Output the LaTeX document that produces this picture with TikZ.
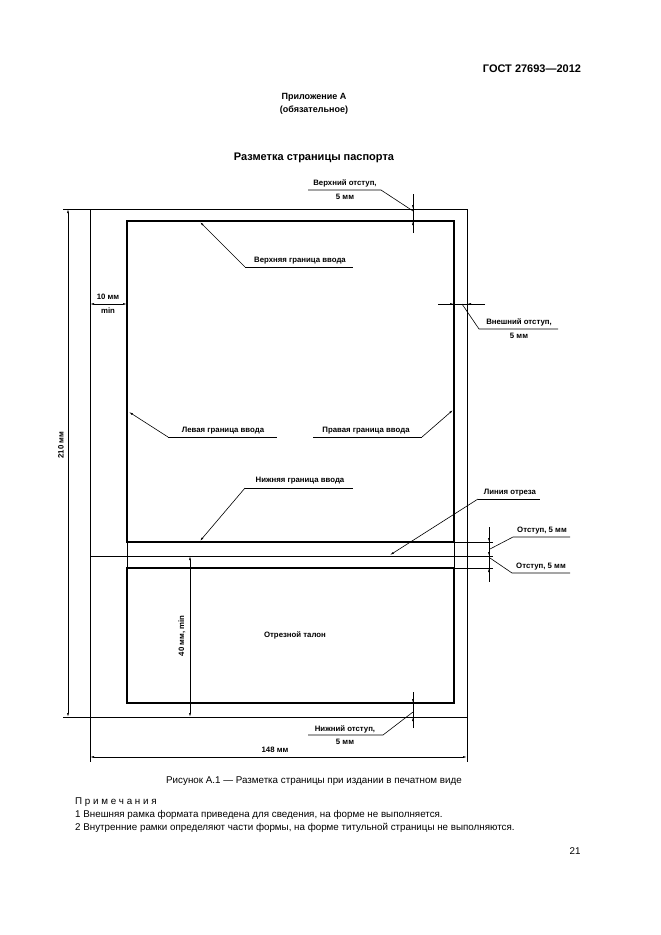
\documentclass[tikz,border=0pt]{standalone}
\usepackage{fontspec}
\setmainfont{Liberation Sans}
\usetikzlibrary{arrows.meta}
\begin{document}
\begin{tikzpicture}[x=1pt,y=-1pt,
 thin/.style={line width=0.6pt},
 thick/.style={line width=1.2pt},
 ar/.style={thin,-{Latex[length=4pt,width=2pt]}},
 dim/.style={thin,{Latex[length=4pt,width=2pt]}-{Latex[length=4pt,width=2pt]}},
 lb/.style={font=\fontsize{7.8}{9}\selectfont\bfseries,inner sep=0.5pt},
 tx/.style={font=\fontsize{9.8}{11}\selectfont,inner sep=0pt}]
\useasboundingbox (0,0) rectangle (661,935);
% texts
\node[font=\fontsize{11}{13}\selectfont\bfseries] (gost) at (532,69) {ГОСТ 27693—2012};
\node[font=\fontsize{9}{11}\selectfont\bfseries] (pr) at (314,97) {Приложение А};
\node[font=\fontsize{9}{11}\selectfont\bfseries] (ob) at (314,110) {(обязательное)};
\node[font=\fontsize{11}{13}\selectfont\bfseries] (tit) at (314,158) {Разметка страницы паспорта};
% frames
\draw[thin] (90,209) rectangle (467,717);
\draw[thick] (127,221) rectangle (454,542);
\draw[thick] (127,568) rectangle (454,703);
\draw[thin] (127,542) -- (127,568) (454,542) -- (454,568);
\draw[thin] (90,556) -- (493,556);
\draw[thin] (454,542) -- (493,542) (454,568) -- (493,568);
% 210 dimension
\draw[thin] (63,209) -- (90,209) (63,717) -- (90,717);
\draw[dim] (68,209) -- (68,717);
\node[lb,rotate=90] (d210) at (61,445) {210 мм};
% 148 dimension
\draw[thin] (90,717) -- (90,762) (467,717) -- (467,762);
\draw[dim] (90,757) -- (467,757);
\node[lb] (d148) at (275,750) {148 мм};
% 40 mm
\draw[dim] (190,556) -- (190,717);
\node[lb,rotate=90] (d40) at (182,636) {40 мм, min};
% 10 mm
\draw[dim] (90,304) -- (127,304);
\node[lb] (d10a) at (108,297) {10 мм};
\node[lb] (d10b) at (108,311) {min};
% top offset
\draw[thin] (413,194) -- (413,233);
\draw[ar] (413,196) -- (413,209);
\draw[ar] (413,233) -- (413,221);
\draw[thin] (413,211) -- (381,190) -- (308,190);
\node[lb] (to1) at (345,183) {Верхний отступ,};
\node[lb] (to2) at (345,197) {5 мм};
% outer offset
\draw[thin] (438,304) -- (485,304);
\draw[ar] (440,304) -- (454,304);
\draw[ar] (485,304) -- (467,304);
\draw[thin] (462,304) -- (479,329) -- (558,329);
\node[lb] (oo1) at (519,322) {Внешний отступ,};
\node[lb] (oo2) at (519,336) {5 мм};
% boundary labels
\draw[ar] (245,267) -- (200,222);
\draw[thin] (245,267) -- (353,267);
\node[lb] (vg) at (300,261) {Верхняя граница ввода};
\draw[ar] (168,437) -- (129,412);
\draw[thin] (168,437) -- (277,437);
\node[lb] (lg) at (223,431) {Левая граница ввода};
\draw[ar] (422,437) -- (453,410);
\draw[thin] (422,437) -- (313,437);
\node[lb] (pg) at (366,431) {Правая граница ввода};
\draw[ar] (245,488) -- (200,541);
\draw[thin] (245,488) -- (353,488);
\node[lb] (ng) at (300,481) {Нижняя граница ввода};
\draw[ar] (478,499) -- (390,555);
\draw[thin] (478,499) -- (540,499);
\node[lb] (lo) at (510,493) {Линия отреза};
% offsets near cut line
\draw[thin] (489,527) -- (489,582);
\draw[ar] (489,529) -- (489,542);
\draw[ar] (489,547) -- (489,556);
\draw[ar] (489,580) -- (489,568);
\draw[thin] (490,549) -- (513,537) -- (570,537);
\node[lb] (o1) at (542,531) {Отступ, 5 мм};
\draw[thin] (490,558) -- (512,573) -- (570,573);
\node[lb] (o2) at (541,567) {Отступ, 5 мм};
% bottom offset
\draw[thin] (413,692) -- (413,728);
\draw[ar] (413,692) -- (413,703);
\draw[ar] (413,728) -- (413,717);
\draw[thin] (413,712) -- (383,735) -- (308,735);
\node[lb] (bo1) at (345,729) {Нижний отступ,};
\node[lb] (bo2) at (345,742) {5 мм};
\node[lb] (tal) at (295,635) {Отрезной талон};
% caption and notes
\node[tx] (cap) at (314,781) {Рисунок А.1 — Разметка страницы при издании в печатном виде};
\node[tx,anchor=west] (n0) at (75,802) {П р и м е ч а н и я};
\node[tx,anchor=west] (n1) at (75,815) {1 Внешняя рамка формата приведена для сведения, на форме не выполняется.};
\node[tx,anchor=west] (n2) at (75,828) {2 Внутренние рамки определяют части формы, на форме титульной страницы не выполняются.};
\node[tx] (pg21) at (575,851) {21};
\end{tikzpicture}
\end{document}
